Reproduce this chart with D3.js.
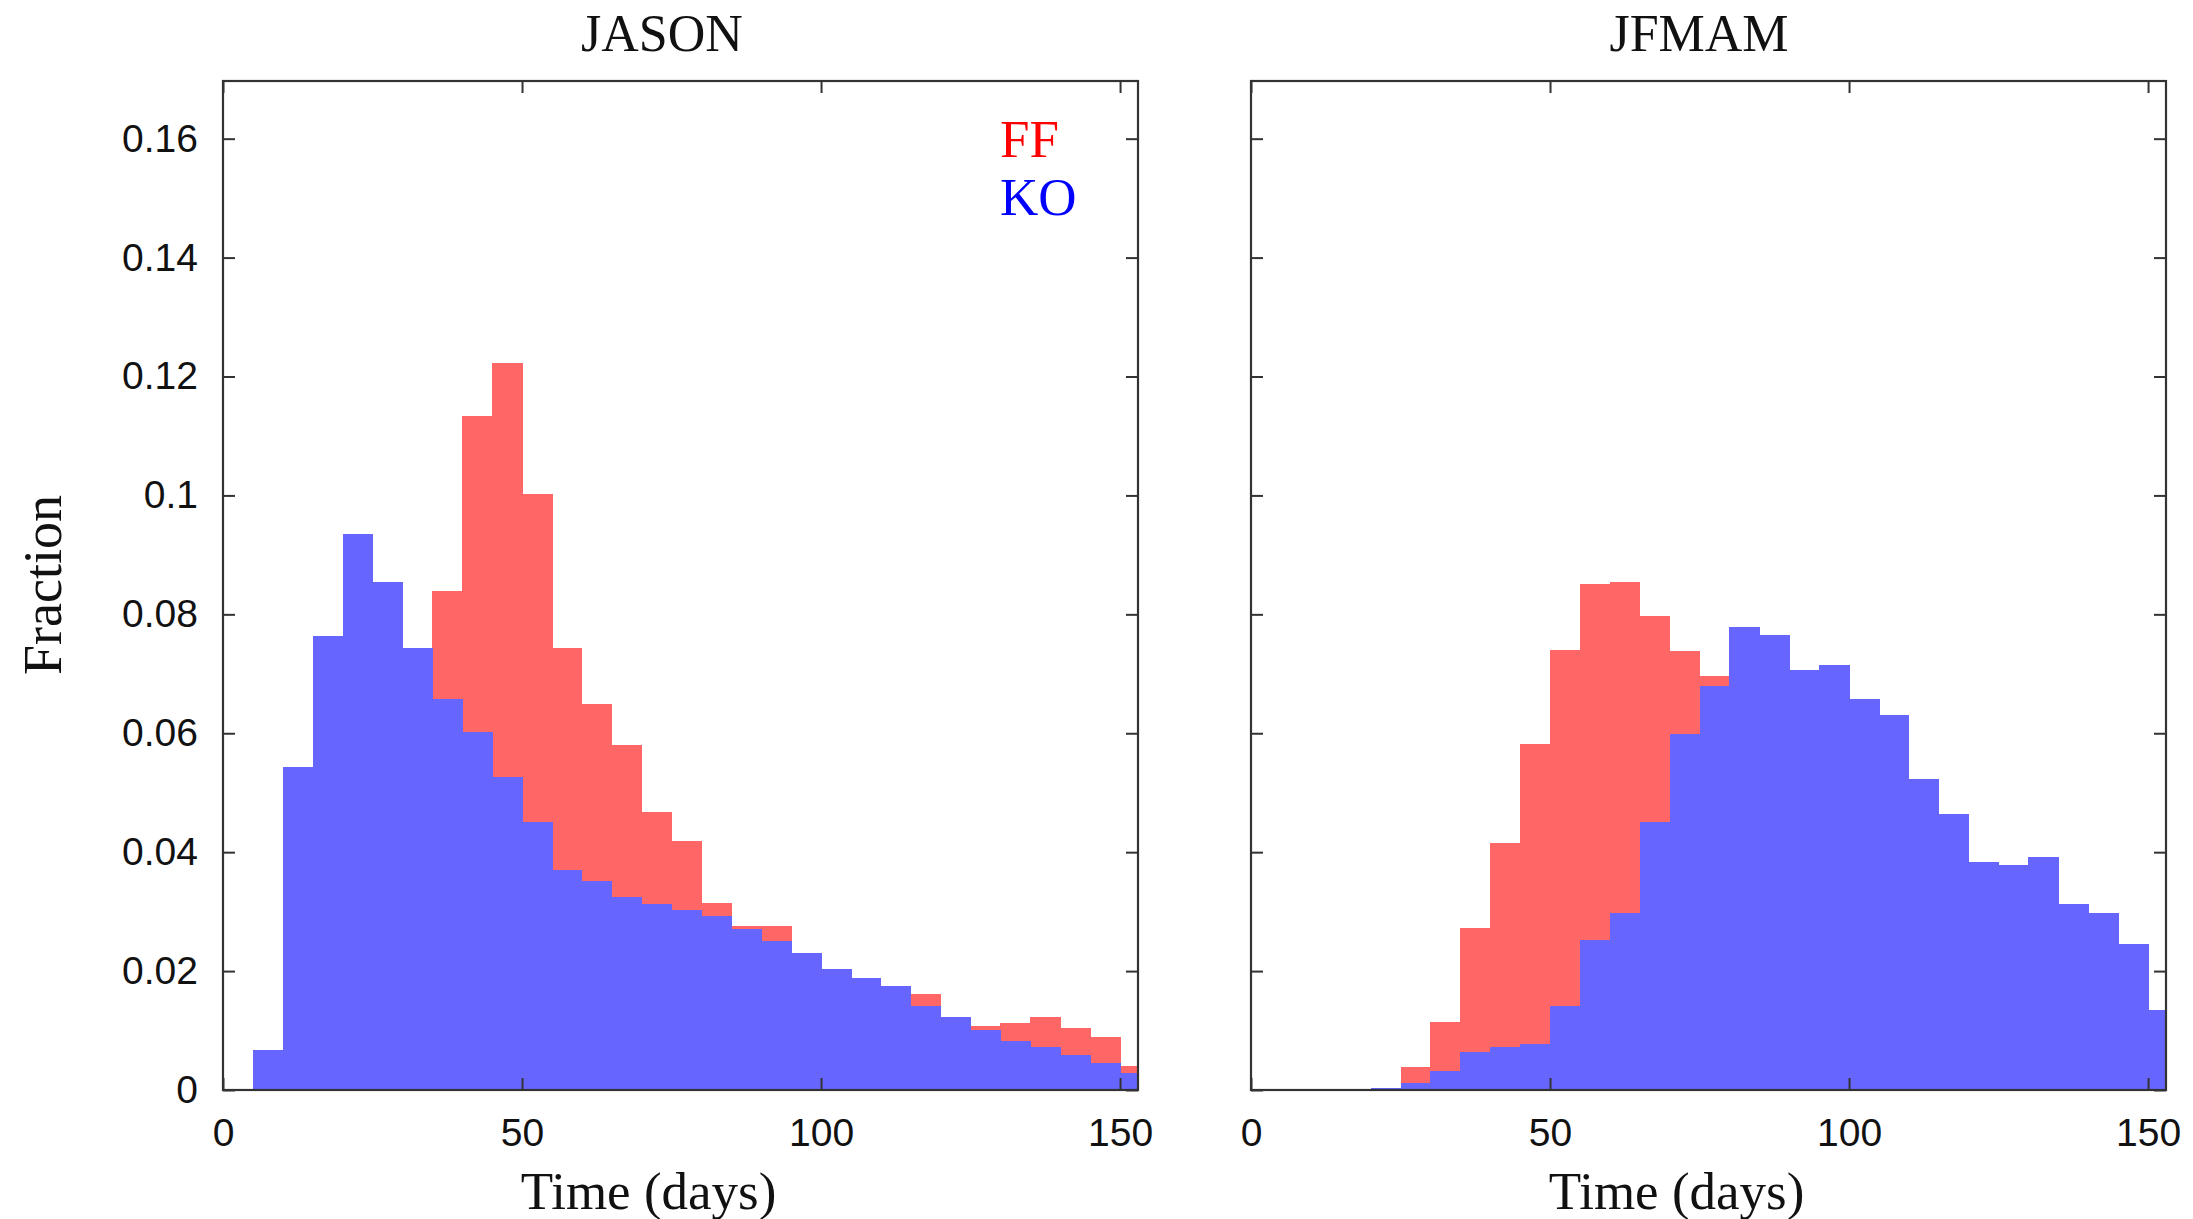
<!DOCTYPE html>
<html>
<head>
<meta charset="utf-8">
<script src="https://cdn.jsdelivr.net/npm/d3@7"></script>
<style>
  html, body { margin: 0; padding: 0; background: #fff; }
  svg { display: block; }
</style>
</head>
<body>
<svg id="chart" width="2193" height="1219"></svg>
<script>
// ---- Data (fraction per 5-day bin; bins start at binStart) ----
const binStart = [0,5,10,15,20,25,30,35,40,45,50,55,60,65,70,75,80,85,90,95,100,105,110,115,120,125,130,135,140,145,150];
const binWidth = 5;

const panelTitles = ["JASON", "JFMAM"];
const seriesNames = ["FF", "KO"];

const jasonFF = [0,0,0.002,0.004,0.008,0.015,0.030,0.0840,0.1133,0.1223,0.1003,0.0743,0.0649,0.0581,0.0468,0.0418,0.0315,0.0275,0.0275,0.0220,0.0195,0.0180,0.0165,0.0162,0.0118,0.0108,0.0113,0.0122,0.0104,0.0089,0.0040];
const jasonKO = [0,0.0068,0.0544,0.0764,0.0935,0.0854,0.0743,0.0657,0.0602,0.0526,0.0450,0.0370,0.0352,0.0324,0.0312,0.0302,0.0293,0.0270,0.0251,0.0230,0.0203,0.0189,0.0175,0.0141,0.0122,0.0101,0.0082,0.0073,0.0059,0.0046,0.0028];

const jfmamFF = [0,0,0,0,0.0002,0.0038,0.0114,0.0272,0.0415,0.0582,0.0740,0.0851,0.0855,0.0798,0.0739,0.0697,0.065,0.058,0.050,0.043,0.036,0.030,0.025,0.020,0.016,0.013,0.010,0.008,0.006,0.005,0.002];
const jfmamKO = [0,0,0,0,0.0004,0.0011,0.0032,0.0064,0.0073,0.0077,0.0141,0.0253,0.0298,0.0450,0.0599,0.0680,0.0779,0.0765,0.0707,0.0715,0.0657,0.0630,0.0523,0.0465,0.0383,0.0379,0.0392,0.0312,0.0297,0.0245,0.0135];

const xTicks = [0, 50, 100, 150];
const yTicks = [0, 0.02, 0.04, 0.06, 0.08, 0.1, 0.12, 0.14, 0.16];
const xDomain = [0, 153];
const yDomain = [0, 0.1697];

const xLabel = "Time (days)";
const yLabel = "Fraction";

// ---- Layout / style ----
const colors = { FF: "#ff6666", KO: "#6666ff" };
const legendColors = { FF: "#ff0000", KO: "#0000ff" };
const serif = "'Liberation Serif', 'Times New Roman', serif";
const sans = "'Liberation Sans', Arial, sans-serif";
const plotTop = 81, plotBottom = 1090;
const panels = [
  { left: 223, right: 1138, title: panelTitles[0], titleX: 662, FF: jasonFF, KO: jasonKO, yLabels: true, legend: true },
  { left: 1251, right: 2166, title: panelTitles[1], titleX: 1699, FF: jfmamFF, KO: jfmamKO, yLabels: false, legend: false }
];

const svg = d3.select("#chart");
svg.append("rect").attr("width", 2193).attr("height", 1219).attr("fill", "#fff");

const y = d3.scaleLinear().domain(yDomain).range([plotBottom, plotTop]);

panels.forEach((p, pi) => {
  const x = d3.scaleLinear().domain(xDomain).range([p.left, p.right]);
  const clipId = "clip" + pi;
  svg.append("clipPath").attr("id", clipId)
    .append("rect").attr("x", p.left).attr("y", plotTop)
    .attr("width", p.right - p.left).attr("height", plotBottom - plotTop);

  const g = svg.append("g").attr("clip-path", `url(#${clipId})`);
  seriesNames.forEach(name => {
    const vals = p[name];
    g.append("g").selectAll("rect")
      .data(binStart.map((b, i) => ({ b, v: vals[i] })))
      .join("rect")
      .attr("x", d => x(d.b))
      .attr("width", d => x(d.b + binWidth) - x(d.b) + 0.6)
      .attr("y", d => y(d.v))
      .attr("height", d => plotBottom - y(d.v))
      .attr("fill", colors[name])
      .attr("shape-rendering", "crispEdges");
  });

  const styleAxis = (sel, labels) => {
    sel.select(".domain").remove();
    sel.selectAll(".tick line").attr("stroke", "#333").attr("stroke-width", 2);
    sel.selectAll(".tick text").attr("fill", "#111")
      .style("font-family", sans).style("font-size", "39px");
    if (!labels) sel.selectAll(".tick text").remove();
  };

  svg.append("g").attr("transform", `translate(0,${plotBottom})`)
    .call(d3.axisBottom(x).tickValues(xTicks).tickFormat(d3.format("d"))
      .tickSizeInner(-12).tickSizeOuter(0).tickPadding(28))
    .call(s => styleAxis(s, true));
  svg.append("g").attr("transform", `translate(0,${plotTop})`)
    .call(d3.axisTop(x).tickValues(xTicks).tickSizeInner(-12).tickSizeOuter(0))
    .call(s => styleAxis(s, false));
  svg.append("g").attr("transform", `translate(${p.left},0)`)
    .call(d3.axisLeft(y).tickValues(yTicks).tickFormat(d => d === 0 ? "0" : String(+d.toFixed(2)))
      .tickSizeInner(-12).tickSizeOuter(0).tickPadding(25))
    .call(s => styleAxis(s, p.yLabels));
  svg.append("g").attr("transform", `translate(${p.right},0)`)
    .call(d3.axisRight(y).tickValues(yTicks).tickSizeInner(-12).tickSizeOuter(0))
    .call(s => styleAxis(s, false));

  svg.append("rect").attr("x", p.left).attr("y", plotTop)
    .attr("width", p.right - p.left).attr("height", plotBottom - plotTop)
    .attr("fill", "none").attr("stroke", "#333").attr("stroke-width", 2.2);

  svg.append("text").attr("x", p.titleX).attr("y", 51)
    .attr("text-anchor", "middle").attr("fill", "#111")
    .style("font-family", serif).style("font-size", "52px").text(p.title);

  svg.append("text").attr("x", (p.left + p.right) / 2 - 32).attr("y", 1209)
    .attr("text-anchor", "middle").attr("fill", "#111")
    .style("font-family", serif).style("font-size", "53px").text(xLabel);

  if (p.legend) {
    seriesNames.forEach((name, i) => {
      svg.append("text").attr("x", 1000).attr("y", 157 + i * 58)
        .attr("fill", legendColors[name])
        .style("font-family", serif).style("font-size", "53px").text(name);
    });
  }
});

svg.append("text").attr("transform", "translate(61,585) rotate(-90)")
  .attr("text-anchor", "middle").attr("fill", "#111")
  .style("font-family", serif).style("font-size", "54px").text(yLabel);
</script>
</body>
</html>
